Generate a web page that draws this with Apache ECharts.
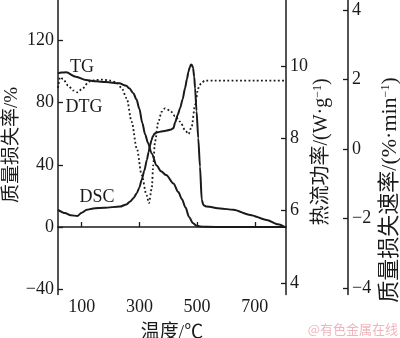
<!DOCTYPE html>
<html>
<head>
<meta charset="utf-8">
<script src="https://cdn.jsdelivr.net/npm/echarts@6/dist/echarts.min.js"></script>
<style>
html, body { margin: 0; padding: 0; background: #fff; }
#chart { width: 400px; height: 338px; }
</style>
</head>
<body>
<div id="chart"></div>
<script>
// Temperature ticks (°C)
const xTicks = [100, 300, 500, 700];
const leftTicks = [-40, 0, 40, 80, 120];
const dscTicks = [4, 6, 8, 10];
const dtgTicks = [-4, -2, 0, 2, 4];

// TG: mass loss ratio (%)
const tgTemp = [18, 30, 46, 80, 115, 150, 184, 230, 255, 265, 279, 290, 300, 310, 320, 330, 342, 360, 375, 393, 418, 435, 447, 460, 472, 485, 497, 510, 533, 600, 700, 808];
const tgValue = [98.8, 99.3, 99.5, 96.6, 94.5, 93.7, 93.3, 92.4, 90.8, 89.2, 86, 82, 76, 67, 59.5, 54, 47.5, 39.5, 35.8, 33.4, 28, 22.5, 18, 12.5, 6.5, 2.6, 1.0, 0.4, 0.1, 0, 0, 0];

// DSC: heat flow (W/g)
const dscTemp = [18, 42, 62, 85, 100, 118, 140, 180, 233, 255, 268, 280, 291, 300, 308, 317, 326, 332, 337, 342, 346, 352, 360, 380, 395, 410, 418, 424, 433, 441, 450, 458, 465, 470, 475, 479, 482, 486, 490, 493, 498, 504, 510, 516, 522, 533, 580, 626, 684, 741, 780, 808];
const dscValue = [6.02, 5.93, 5.87, 5.85, 5.94, 6.02, 6.06, 6.08, 6.11, 6.17, 6.25, 6.35, 6.48, 6.64, 6.85, 7.10, 7.40, 7.62, 7.80, 7.95, 8.04, 8.12, 8.16, 8.19, 8.21, 8.24, 8.28, 8.44, 8.65, 8.83, 9.08, 9.38, 9.64, 9.84, 9.97, 10.04, 10.02, 9.94, 9.70, 9.38, 8.75, 8.00, 7.21, 6.30, 6.15, 6.11, 6.06, 6.02, 5.88, 5.74, 5.62, 5.53];

// DTG: mass loss rate (%/min)
const dtgTemp = [18, 25, 35, 53, 70, 86, 101, 126, 150, 174, 198, 221, 239, 256, 273, 291, 308, 325, 333, 343, 348, 354, 366, 377, 389, 406, 423, 441, 458, 470, 481, 493, 504, 514, 527, 560, 700, 808];
const dtgValue = [1.76, 2.07, 2.02, 1.83, 1.69, 1.63, 1.73, 1.94, 1.99, 2.00, 1.97, 1.92, 1.75, 1.46, 0.79, 0.02, -0.75, -1.33, -1.56, -1.13, -0.46, 0.21, 0.79, 1.07, 1.17, 1.11, 0.95, 0.79, 0.55, 0.43, 0.64, 1.27, 1.75, 1.89, 1.97, 1.97, 1.97, 1.97];

const zip = (xs, ys) => xs.map((x, i) => [x, ys[i]]);

const serif = '"Liberation Serif", "Noto Sans CJK SC", serif';
const ink = '#1a1a1a';
const minus = v => String(v).replace('-', '\u2212');

const axisLineStyle = { lineStyle: { color: ink, width: 1.5 } };

function yAxisCommon(ticks) {
  return {
    type: 'value',
    splitLine: { show: false },
    axisLine: { show: true, ...axisLineStyle },
    axisTick: { show: true, inside: true, length: 5, customValues: ticks, lineStyle: { color: ink, width: 1.3 } },
    axisLabel: { customValues: ticks, color: ink, fontFamily: serif, fontSize: 18, margin: 4, formatter: minus }
  };
}

const chart = echarts.init(document.getElementById('chart'), null, { renderer: 'canvas' });

const labelStyle = { show: true, position: 'inside', color: ink, fontFamily: serif, fontSize: 18 };
const supStyle = { fontSize: 12, fontFamily: serif, fill: ink, padding: [0, 0, 9, 0] };

chart.setOption({
  animation: false,
  backgroundColor: '#fff',
  grid: { left: 58, right: 114, top: 0, bottom: 43.5, outerBoundsMode: 'none', containLabel: false },
  xAxis: {
    type: 'value',
    min: 18,
    max: 808,
    name: '温度/℃',
    nameLocation: 'middle',
    nameGap: 29,
    nameTextStyle: { color: ink, fontFamily: serif, fontSize: 19 },
    splitLine: { show: false },
    axisLine: { show: true, ...axisLineStyle },
    axisTick: { show: true, inside: true, length: 5, customValues: xTicks, lineStyle: { color: ink, width: 1.3 } },
    axisLabel: { customValues: xTicks, color: ink, fontFamily: serif, fontSize: 18, margin: 4 }
  },
  yAxis: [
    Object.assign(yAxisCommon(leftTicks), { position: 'left', min: -43.4, max: 146 }),
    Object.assign(yAxisCommon(dscTicks), { position: 'right', offset: 0, min: 3.68, max: 11.82 }),
    Object.assign(yAxisCommon(dtgTicks), { position: 'right', offset: 62, min: -4.19, max: 4.29 })
  ],
  graphic: [
    {
      type: 'text', x: 12, y: 145, rotation: Math.PI / 2,
      style: { text: '质量损失率/%', fill: ink, font: '19px ' + serif, align: 'center', verticalAlign: 'middle' }
    },
    {
      type: 'text', x: 322, y: 152, rotation: Math.PI / 2,
      style: {
        text: '热流功率/(W·g{sup|\u22121})', fill: ink, font: '20px ' + serif, align: 'center', verticalAlign: 'middle',
        rich: { sup: supStyle }
      }
    },
    {
      type: 'text', x: 390, y: 190, rotation: Math.PI / 2,
      style: {
        text: '质量损失速率/(%·min{sup|\u22121})', fill: ink, font: '22px ' + serif, align: 'center', verticalAlign: 'middle',
        rich: { sup: supStyle }
      }
    },
    {
      type: 'text', right: 2, bottom: 2,
      style: { text: '@有色金属在线', fill: '#f0b4bc', font: '13px "Noto Sans CJK SC", sans-serif' }
    }
  ],
  series: [
    {
      name: 'TG', type: 'line', yAxisIndex: 0, data: zip(tgTemp, tgValue),
      showSymbol: false, smooth: 0.3, smoothMonotone: 'x',
      lineStyle: { color: ink, width: 2 },
      markPoint: { symbolSize: 0, label: labelStyle, data: [{ coord: [101, 102.9], value: 'TG', label: { formatter: 'TG' } }] }
    },
    {
      name: 'DSC', type: 'line', yAxisIndex: 1, data: zip(dscTemp, dscValue),
      showSymbol: false, smooth: 0.25, smoothMonotone: 'x',
      lineStyle: { color: ink, width: 2 },
      markPoint: { symbolSize: 0, label: labelStyle, data: [{ coord: [153, 6.38], value: 'DSC', label: { formatter: 'DSC' } }] }
    },
    {
      name: 'DTG', type: 'line', yAxisIndex: 2, data: zip(dtgTemp, dtgValue),
      showSymbol: false, smooth: 0.3, smoothMonotone: 'x',
      lineStyle: { color: ink, width: 1.8, type: [1.8, 2.4] },
      markPoint: { symbolSize: 0, label: labelStyle, data: [{ coord: [108, 1.21], value: 'DTG', label: { formatter: 'DTG' } }] }
    }
  ]
});
</script>
</body>
</html>
